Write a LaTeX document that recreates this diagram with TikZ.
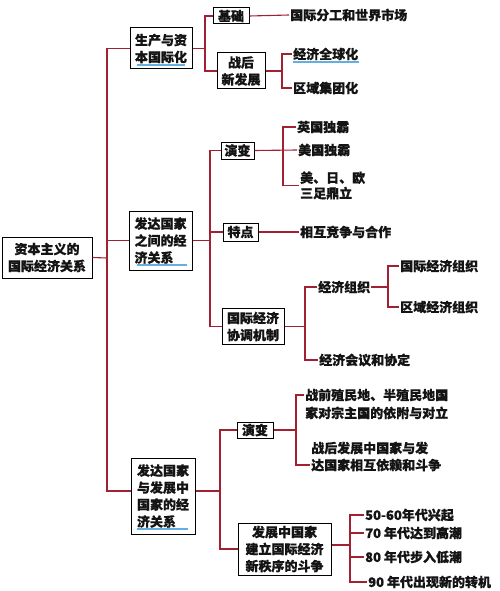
\documentclass[tikz,border=0pt]{standalone}
\usepackage{fontspec}
\setmainfont{Noto Sans CJK SC}[BoldFeatures={FakeBold=0.6}]
\definecolor{linkred}{RGB}{160,34,50}
\definecolor{ulblue}{RGB}{100,175,225}
\definecolor{txt}{RGB}{20,20,20}
\tikzset{
  link/.style={draw=linkred, line width=1.1pt},
  box/.style={draw=black, line width=1pt, fill=white, inner sep=0pt, text=txt,
    font=\fontsize{13}{17}\selectfont\bfseries},
  lbl/.style={anchor=west, inner xsep=1pt, inner ysep=0pt, text=txt,
    font=\fontsize{13}{17}\selectfont\bfseries, align=left},
  ul/.style={draw=ulblue, line width=1.4pt}
}
\begin{document}
\begin{tikzpicture}[x=1pt,y=-1pt]
\useasboundingbox (0,0) rectangle (500,591);
% boxes
\node[box, minimum width=90, minimum height=41, align=center] (root) at (47,257.5) {资本主义的\\国际经济关系};
\node[box, minimum width=62, minimum height=41, align=left] (b1) at (161,48.5) {生产与资\\本国际化};
\node[box, minimum width=63, minimum height=59, align=left] (b2) at (160.5,240.5) {发达国家\\之间的经\\济关系};
\node[box, minimum width=64, minimum height=76, align=left] (b3) at (163,496) {发达国家\\与发展中\\国家的经\\济关系};
\node[box, minimum width=36, minimum height=16] (jichu) at (231,16) {基础};
\node[box, minimum width=48, minimum height=36, align=center] (zhanhou) at (241,71) {战后\\新发展};
\node[box, minimum width=33, minimum height=17] (yanbian1) at (237.5,150.5) {演变};
\node[box, minimum width=35, minimum height=18] (tedian) at (240.5,232) {特点};
\node[box, minimum width=62, minimum height=36, align=left] (xietiao) at (253,326.5) {国际经济\\协调机制};
\node[box, minimum width=36, minimum height=16] (yanbian2) at (255,430) {演变};
\node[box, minimum width=93, minimum height=52, align=center] (douzheng) at (284.5,549) {发展中国家\\建立国际经济\\新秩序的斗争};
% text labels
\node[lbl] (guoji) at (289,15) {国际分工和世界市场};
\node[lbl] (quanqiu) at (292,54) {经济全球化};
\node[lbl] (quyu) at (292,88) {区域集团化};
\node[lbl] (yingguo) at (296,127) {英国独霸};
\node[lbl] (meiguo) at (297,150) {美国独霸};
\node[lbl, font=\fontsize{13}{15.5}\selectfont\bfseries] (sanzu) at (299,185.5) {美、日、欧\\三足鼎立};
\node[lbl] (hezuo) at (299,232) {相互竞争与合作};
\node[lbl] (jjzz) at (317,287) {经济组织};
\node[lbl] (gjjjzz) at (399,266) {国际经济组织};
\node[lbl] (qyjjzz) at (399,307) {区域经济组织};
\node[lbl] (huiyi) at (318,360) {经济会议和协定};
\node[lbl, font=\fontsize{13}{18}\selectfont\bfseries] (zhanqian) at (304,404) {战前殖民地、半殖民地国\\家对宗主国的依附与对立};
\node[lbl] (zhanhou2) at (310,456.5) {战后发展中国家与发\\达国家相互依赖和斗争};
\node[lbl] (n5060) at (364,515) {50-60年代兴起};
\node[lbl] (n70) at (364,533) {70 年代达到高潮};
\node[lbl] (n80) at (364,557) {80 年代步入低潮};
\node[lbl] (n90) at (367,582) {90 年代出现新的转机};
% junction coordinates
\coordinate (t) at (107,258);
\coordinate (v1) at (205,48.5);
\coordinate (v3) at (282,71);
\coordinate (v4) at (210,240.5);
\coordinate (v5) at (283,150.5);
\coordinate (v7) at (305,326.5);
\coordinate (v8) at (388,287);
\coordinate (v9) at (220,491);
\coordinate (v10) at (296,430);
\coordinate (v11) at (350,545);
% trunk
\draw[link] (root.east) -- (t);
\draw[link] (b1.west) -| (t) |- ([yshift=5pt]b3.west);
\draw[link] (b2.west) -- (b2.west -| t);
% branch 1
\draw[link] (b1.east) -- (v1);
\draw[link] (jichu.west) -| (v1) |- (zhanhou.west);
\draw[link] (jichu.east) -- (guoji.west);
\draw[link] (zhanhou.east) -- (v3);
\draw[link] (quanqiu.west) -| (v3) |- (quyu.west);
% branch 2
\draw[link] (b2.east) -- (v4);
\draw[link] (yanbian1.west) -| (v4) |- (xietiao.west);
\draw[link] (tedian.west) -- (tedian.west -| v4);
\draw[link] (yanbian1.east) -- (meiguo.west);
\draw[link] (yingguo.west) -| (v5) |- (sanzu.west);
\draw[link] (tedian.east) -- (hezuo.west);
\draw[link] (xietiao.east) -- (v7);
\draw[link] (jjzz.west) -| (v7) |- (huiyi.west);
\draw[link] (jjzz.east) -- (v8);
\draw[link] (gjjjzz.west) -| (v8) |- (qyjjzz.west);
% branch 3
\draw[link] ([yshift=5pt]b3.east) -- (v9);
\draw[link] (yanbian2.west) -| (v9) |- (douzheng.west);
\draw[link] (yanbian2.east) -- (v10);
\draw[link] ([yshift=9pt]zhanqian.west) -| (v10) |- ([yshift=-8.5pt]zhanhou2.west);
\draw[link] ([yshift=4pt]douzheng.east) -- (v11);
\draw[link] (n5060.west) -| (v11) |- (n90.west);
\draw[link] (n70.west) -- (n70.west -| v11);
\draw[link] (n80.west) -- (n80.west -| v11);
% blue underlines
\draw[ul] (137,65) -- (185,65);
\draw[ul] (293,62) -- (359,62);
\draw[ul] (137,265) -- (187,265);
\draw[ul] (137,529) -- (188,529);
\end{tikzpicture}
\end{document}
